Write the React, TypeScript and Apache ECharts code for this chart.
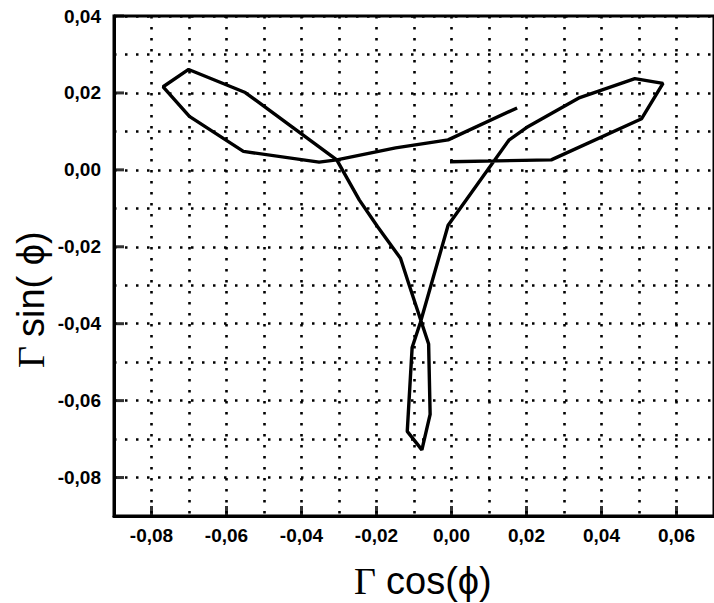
import React, { useEffect, useRef } from "react";
import * as echarts from "echarts";

// Γ·cos(φ), Γ·sin(φ) trace, in drawing order
const gammaCos = [
  -0.0004, 0.0266, 0.0507, 0.0564, 0.0489, 0.0342, 0.02, 0.0153, -0.0009,
  -0.0083, -0.0105, -0.0118, -0.0079, -0.0057, -0.0061, -0.0114, -0.0136,
  -0.0197, -0.0246, -0.0306, -0.055, -0.0701, -0.0769, -0.0699, -0.0555,
  -0.0353, -0.0306, -0.0149, -0.0009, 0.0175,
];
const gammaSin = [
  0.0021, 0.0026, 0.0133, 0.0225, 0.0237, 0.0188, 0.011, 0.0077, -0.0144,
  -0.0397, -0.0462, -0.068, -0.0728, -0.0636, -0.0453, -0.0296, -0.023,
  -0.0148, -0.0078, 0.0026, 0.0201, 0.0261, 0.0216, 0.0139, 0.0048, 0.002,
  0.0026, 0.0057, 0.0078, 0.0161,
];

// labelled (major) tick values
const xMajorTicks = [-0.08, -0.06, -0.04, -0.02, 0.0, 0.02, 0.04, 0.06];
const yMajorTicks = [-0.08, -0.06, -0.04, -0.02, 0.0, 0.02, 0.04];

const X_MIN = -0.09;
const X_MAX = 0.07;
const Y_MIN = -0.09;
const Y_MAX = 0.04;
const STEP = 0.01;

const fmt = (v: number) => {
  const k = Math.round(v * 100);
  if (k % 2 !== 0) return "";
  const s = (Math.abs(k) / 100).toFixed(2).replace(".", ",");
  return k < 0 ? "-" + s : s;
};

const SANS = "Liberation Sans, Arial, sans-serif";
const SERIF = "Liberation Serif, Times New Roman, serif";

const labelStyle = {
  color: "#000",
  fontFamily: SANS,
  fontWeight: "bold" as const,
  fontSize: 19,
};

const gridLine = {
  show: true,
  lineStyle: { color: "#000", width: 2.6, type: [2.5, 8.5] as number[] },
};

const titleText = (x: number, text: string, family: string) => ({
  type: "text",
  x,
  y: 0,
  style: {
    text,
    fontFamily: family,
    fontSize: 38,
    fill: "#000",
    align: "left",
    verticalAlign: "middle",
  },
});

export default function App() {
  const ref = useRef<HTMLDivElement>(null);

  useEffect(() => {
    if (!ref.current) return;
    const chart = echarts.init(ref.current, undefined, { renderer: "svg" });

    const trace = gammaCos.map((x, i) => [x, gammaSin[i]]);

    chart.setOption({
      animation: false,
      backgroundColor: "#fff",
      grid: {
        left: 114,
        top: 16,
        right: -10,
        bottom: 87,
        show: true,
        borderColor: "#000",
        borderWidth: 3,
      },
      xAxis: {
        type: "value",
        min: X_MIN,
        max: X_MAX,
        interval: STEP,
        axisLine: { show: true, onZero: false, lineStyle: { color: "#000", width: 3 } },
        axisTick: { show: false },
        axisLabel: { ...labelStyle, margin: 10, formatter: fmt, showMinLabel: false, showMaxLabel: false },
        splitLine: gridLine,
      },
      yAxis: {
        type: "value",
        min: Y_MIN,
        max: Y_MAX,
        interval: STEP,
        axisLine: { show: true, onZero: false, lineStyle: { color: "#000", width: 3 } },
        axisTick: { show: false },
        axisLabel: { ...labelStyle, margin: 13, formatter: fmt, showMinLabel: false },
        splitLine: gridLine,
      },
      series: [
        {
          type: "line",
          data: trace,
          showSymbol: false,
          symbol: "none",
          lineStyle: { color: "#000", width: 3.4 },
          z: 5,
        },
        {
          // inward major ticks on the bottom axis
          type: "scatter",
          data: xMajorTicks.map((v) => [v, Y_MIN]),
          symbol: "rect",
          symbolSize: [3, 10],
          symbolOffset: [0, -5],
          itemStyle: { color: "#000" },
          clip: false,
          silent: true,
          z: 6,
        },
        {
          // inward major ticks on the left axis
          type: "scatter",
          data: yMajorTicks.map((v) => [X_MIN, v]),
          symbol: "rect",
          symbolSize: [10, 3],
          symbolOffset: [5, 0],
          itemStyle: { color: "#000" },
          clip: false,
          silent: true,
          z: 6,
        },
      ],
      graphic: [
        {
          type: "group",
          x: 354,
          y: 581,
          children: [titleText(0, "Γ", SERIF), titleText(32, "cos(ϕ)", SANS)],
        },
        {
          type: "group",
          x: 31,
          y: 293,
          rotation: Math.PI / 2,
          children: [titleText(-75, "Γ", SERIF), titleText(-44, "sin( ϕ)", SANS)],
        },
      ],
    });

    return () => chart.dispose();
  }, []);

  return (
    <div
      ref={ref}
      style={{ position: "fixed", left: 0, top: 0, width: 714, height: 603 }}
    />
  );
}
